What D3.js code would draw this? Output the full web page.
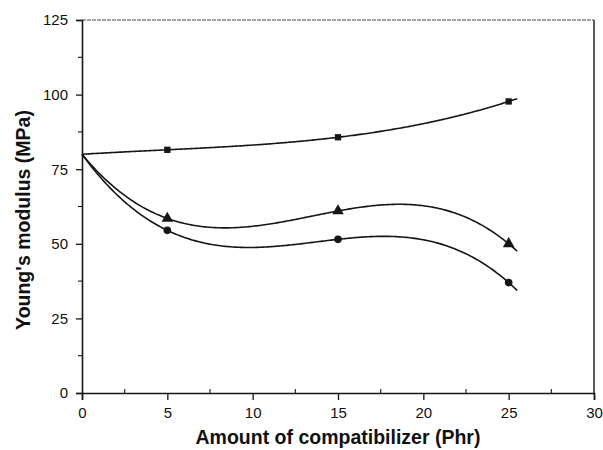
<!DOCTYPE html>
<html>
<head>
<meta charset="utf-8">
<script src="https://cdn.jsdelivr.net/npm/d3@7"></script>
<style>
  html, body { margin: 0; padding: 0; background: #fff; }
  text { font-family: "Liberation Sans", Arial, sans-serif; fill: #111; }
</style>
</head>
<body>
<svg id="chart" width="603" height="450"></svg>
<script>
// Compatibilizer loading (phr) and measured Young's modulus (MPa)
const loading = [0, 5, 15, 25];
const modulusSquare = [80, 81.5, 85.7, 97.7];
const modulusTriangle = [80, 58.5, 61, 50];
const modulusCircle = [80, 54.5, 51.5, 37];

const xTicks = [0, 5, 10, 15, 20, 25, 30];
const yTicks = [0, 25, 50, 75, 100, 125];
const fitEnd = 25.5; // polynomial fit drawn slightly past the last point

const svg = d3.select("#chart");
const margin = { left: 82, right: 9, top: 20, bottom: 57 };
const W = 603, H = 450;

const x = d3.scaleLinear().domain([0, 30]).range([margin.left, W - margin.right]);
const y = d3.scaleLinear().domain([0, 125]).range([H - margin.bottom, margin.top]);

const ink = "#161616";

// frame: right edge solid, top edge light
svg.append("line")
  .attr("x1", x(30)).attr("x2", x(30)).attr("y1", y(0)).attr("y2", y(125))
  .attr("stroke", ink).attr("stroke-width", 1.4);
svg.append("line")
  .attr("x1", x(0)).attr("x2", x(30)).attr("y1", y(125)).attr("y2", y(125))
  .attr("stroke", "#444").attr("stroke-width", 1).attr("stroke-dasharray", "4,1");

// x axis: major ticks below, minor ticks inside
const xAxis = svg.append("g").attr("transform", `translate(0,${y(0)})`)
  .call(d3.axisBottom(x).tickValues(xTicks).tickSize(7).tickPadding(7).tickFormat(d3.format("d")));
xAxis.select(".domain").attr("stroke", ink).attr("stroke-width", 1.6);
xAxis.selectAll(".tick line").attr("stroke", ink).attr("stroke-width", 1.3);
xAxis.selectAll(".tick text").attr("font-size", 15).style("font-family", "Liberation Sans, Arial, sans-serif");
const xMinor = d3.range(2.5, 30, 5);
svg.append("g").selectAll("line").data(xMinor).join("line")
  .attr("x1", d => x(d)).attr("x2", d => x(d))
  .attr("y1", y(0)).attr("y2", y(0) - 4)
  .attr("stroke", ink).attr("stroke-width", 1.1);

// y axis: major and minor ticks outside
const yAxis = svg.append("g").attr("transform", `translate(${x(0)},0)`)
  .call(d3.axisLeft(y).tickValues(yTicks).tickSize(6).tickPadding(8).tickFormat(d3.format("d")));
yAxis.select(".domain").attr("stroke", ink).attr("stroke-width", 1.6);
yAxis.selectAll(".tick line").attr("stroke", ink).attr("stroke-width", 1.3);
yAxis.selectAll(".tick text").attr("font-size", 15).style("font-family", "Liberation Sans, Arial, sans-serif");
const yMinor = d3.range(12.5, 125, 25);
svg.append("g").selectAll("line").data(yMinor).join("line")
  .attr("x1", x(0) - 4).attr("x2", x(0))
  .attr("y1", d => y(d)).attr("y2", d => y(d))
  .attr("stroke", ink).attr("stroke-width", 1.1);

// axis titles
svg.append("text")
  .attr("x", 338).attr("y", 444)
  .attr("text-anchor", "middle").attr("font-size", 19.5).attr("font-weight", "bold")
  .text("Amount of compatibilizer (Phr)");
svg.append("text")
  .attr("transform", "translate(30,220) rotate(-90)")
  .attr("text-anchor", "middle").attr("font-size", 19.5).attr("font-weight", "bold")
  .text("Young's modulus (MPa)");

// cubic polynomial through the four measurements (Lagrange form)
function cubicFit(xs, ys) {
  return t => ys.reduce((sum, yi, i) => {
    let w = 1;
    xs.forEach((xj, j) => { if (j !== i) w *= (t - xj) / (xs[i] - xj); });
    return sum + yi * w;
  }, 0);
}

const samples = d3.range(0, fitEnd + 1e-9, 0.1);
const line = d3.line().x(d => x(d[0])).y(d => y(d[1]));

const series = [
  { values: modulusSquare, symbol: d3.symbolSquare, size: 40 },
  { values: modulusTriangle, symbol: d3.symbolTriangle, size: 58 },
  { values: modulusCircle, symbol: d3.symbolCircle, size: 46 }
];

series.forEach(s => {
  const f = cubicFit(loading, s.values);
  svg.append("path")
    .attr("d", line(samples.map(t => [t, f(t)])))
    .attr("fill", "none").attr("stroke", ink).attr("stroke-width", 1.6);
  svg.append("g").selectAll("path")
    .data(loading.slice(1).map((v, i) => [v, s.values[i + 1]]))
    .join("path")
    .attr("transform", d => `translate(${x(d[0])},${y(d[1])})`)
    .attr("d", d3.symbol().type(s.symbol).size(s.size))
    .attr("fill", ink);
});
</script>
</body>
</html>
